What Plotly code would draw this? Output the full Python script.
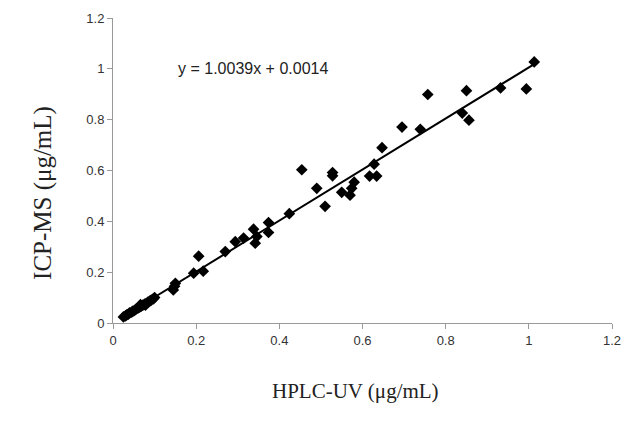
import plotly.graph_objects as go

# HPLC-UV vs ICP-MS readings (ug/mL)
hplc_uv = [0.025, 0.03, 0.033, 0.037, 0.04, 0.045, 0.048, 0.052, 0.056, 0.06,
           0.064, 0.068, 0.072, 0.076, 0.08, 0.084, 0.088, 0.092, 0.097, 0.1,
           0.078, 0.066, 0.145, 0.148, 0.15, 0.194, 0.206, 0.217, 0.27, 0.294,
           0.314, 0.338, 0.342, 0.346, 0.374, 0.374, 0.424, 0.454, 0.49, 0.51,
           0.528, 0.528, 0.55, 0.57, 0.574, 0.58, 0.617, 0.628, 0.634, 0.647,
           0.695, 0.739, 0.757, 0.84, 0.85, 0.856, 0.932, 0.994, 1.013]
icp_ms = [0.024, 0.028, 0.032, 0.035, 0.04, 0.043, 0.047, 0.05, 0.055, 0.058,
          0.062, 0.066, 0.07, 0.074, 0.077, 0.082, 0.086, 0.09, 0.095, 0.1,
          0.07, 0.072, 0.13, 0.145, 0.156, 0.196, 0.263, 0.204, 0.281, 0.32,
          0.334, 0.369, 0.314, 0.34, 0.395, 0.356, 0.43, 0.603, 0.53, 0.459,
          0.592, 0.579, 0.514, 0.503, 0.53, 0.554, 0.578, 0.625, 0.578, 0.69,
          0.771, 0.762, 0.899, 0.826, 0.914, 0.798, 0.925, 0.921, 1.027]

slope = 1.0039
intercept = 0.0014
x_ticks = [0, 0.2, 0.4, 0.6, 0.8, 1, 1.2]
y_ticks = [0, 0.2, 0.4, 0.6, 0.8, 1, 1.2]

fit_x = [min(hplc_uv), max(hplc_uv)]
fit_y = [slope * v + intercept for v in fit_x]

fig = go.Figure()
fig.add_trace(go.Scatter(x=hplc_uv, y=icp_ms, mode="markers",
                         marker=dict(symbol="diamond", size=9, color="black"),
                         showlegend=False))
fig.add_trace(go.Scatter(x=fit_x, y=fit_y, mode="lines",
                         line=dict(color="black", width=2), showlegend=False))

axis_style = dict(range=[0, 1.2], showgrid=False, zeroline=False, automargin=False,
                  showline=True, linecolor="#999999", linewidth=1,
                  ticks="outside", ticklen=5, tickcolor="#999999",
                  tickfont=dict(family="Liberation Sans, Arial", size=13, color="#333333"))
fig.update_xaxes(tickvals=x_ticks, ticktext=[f"{t:g}" for t in x_ticks], **axis_style)
fig.update_yaxes(tickvals=y_ticks, ticktext=[f"{t:g}" for t in y_ticks], **axis_style)

fig.add_annotation(x=0.337, y=1.0, xref="x", yref="y", showarrow=False,
                   text=f"y = {slope}x + {intercept}",
                   font=dict(family="Liberation Sans, Arial", size=16, color="#222222"))
fig.add_annotation(x=0.485, y=-0.269, xref="paper", yref="paper", showarrow=False,
                   text="HPLC-UV (μg/mL)",
                   font=dict(family="Liberation Serif, Times New Roman", size=21, color="#222222"))
fig.add_annotation(x=-0.172, y=0.427, xref="paper", yref="paper", showarrow=False,
                   text="ICP-MS (μg/mL)", textangle=-90,
                   font=dict(family="Liberation Serif, Times New Roman", size=25, color="#222222"))

fig.update_layout(width=624, height=441, plot_bgcolor="white", paper_bgcolor="white",
                  margin=dict(l=113, r=12, t=18, b=118))
# drop the default 8px body margin so the figure fills the window exactly
fig.write_html("out.html", config={"displayModeBar": False},
               post_script="document.body.style.margin='0';")
